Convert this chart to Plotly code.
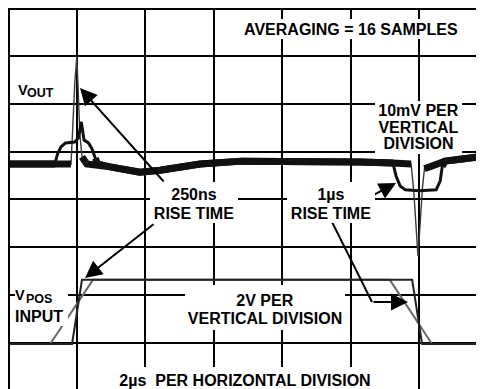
import plotly.graph_objects as go

# ---------------- data (time in microseconds) ----------------
# V_OUT, slow (1us rise) input response, mV
t_out_slow = [0.0, 0.93, 1.37, 1.45, 1.55, 1.68, 1.95, 2.06, 2.14, 2.22, 2.35, 2.45, 2.55, 2.62,
              2.98, 3.42, 3.85, 4.44, 5.02, 5.61, 6.83, 8.53, 10.28, 11.24,
              11.33, 11.45, 11.6, 12.0, 12.5, 12.62, 12.68, 12.76, 13.2, 13.9]
v_out_slow = [0.0, 0.2, 0.0, 2.2, 3.6, 4.4, 4.6, 5.5, 8.8, 5.0, 4.4, 3.2, 1.2, 0.0,
              -0.6, -1.3, -1.7, -1.3, -0.6, 0.0, 0.6, 0.6, 0.4, 0.2,
              -2.5, -4.6, -5.4, -5.6, -5.4, -3.5, -0.5, 0.6, 1.0, 1.6]
# V_OUT, fast (250ns rise) input response, mV
t_out_fast = [0.0, 0.93, 1.37, 1.84, 1.88, 1.95, 2.01, 2.05, 2.10, 2.16, 2.30,
              2.98, 3.42, 3.85, 4.44, 5.02, 5.61, 6.83, 8.53, 10.28, 11.24,
              11.77, 11.85, 11.93, 11.97, 12.02, 12.10, 12.16, 12.76, 13.2, 13.9]
v_out_fast = [0.0, 0.2, 0.0, 0.0, 6.0, 17.0, 22.5, 16.0, 6.0, 1.5, 0.0,
              -0.6, -1.3, -1.7, -1.3, -0.6, 0.0, 0.6, 0.6, 0.4, 0.2,
              0.0, -6.0, -15.0, -19.2, -14.0, -5.0, -1.0, 0.6, 1.0, 1.6]
# V_POS input, volts
t_in_slow = [0.0, 1.23, 2.48, 11.15, 12.38, 13.9]
v_in_slow = [0.0, 0.0, 2.68, 2.68, 0.0, 0.0]
t_in_fast = [0.0, 1.87, 2.16, 11.80, 12.09, 13.9]
v_in_fast = [0.0, 0.0, 2.68, 2.68, 0.0, 0.0]

# ---------------- layout geometry (page pixels) ----------------
PAGE_W, PAGE_H = 484, 389
BODY = 8                      # default html body margin
PAD = 2                       # plot margin inside the figure
DIVX, DIVY = 68.5, 47.86      # pixels per division
GRID_X0, GRID_Y0 = 8, 8       # page position of grid origin (left / top border)
US_PER_DIV, MV_PER_DIV, V_PER_DIV = 2.0, 10.0, 2.0
OUT_ZERO_PY, IN_ZERO_PY = 164, 344

fig_w, fig_h = PAGE_W - BODY, PAGE_H - BODY
left, top = BODY + PAD, BODY + PAD


def X(px):
    return (px - GRID_X0) / DIVX * US_PER_DIV


def Y(py):
    return 8 - (py - GRID_Y0) / DIVY


def MV(py):
    return (OUT_ZERO_PY - py) / DIVY * MV_PER_DIV


def VV(py):
    return (IN_ZERO_PY - py) / DIVY * V_PER_DIV


fig = go.Figure()


def thick_part(v, lim=2.0):
    return [val if abs(val) <= lim else None for val in v]


# input traces
fig.add_trace(go.Scatter(x=t_in_slow, y=v_in_slow, yaxis="y3", mode="lines",
                         line=dict(color="#6a6a6a", width=2)))
fig.add_trace(go.Scatter(x=t_in_fast, y=v_in_fast, yaxis="y3", mode="lines",
                         line=dict(color="#222222", width=2)))
# output traces
fig.add_trace(go.Scatter(x=t_out_fast, y=v_out_fast, yaxis="y2", mode="lines",
                         line=dict(color="#3a3a3a", width=1.4)))
fig.add_trace(go.Scatter(x=t_out_slow, y=v_out_slow, yaxis="y2", mode="lines",
                         line=dict(color="#111111", width=3)))
fig.add_trace(go.Scatter(x=t_out_fast, y=thick_part(v_out_fast), yaxis="y2", mode="lines",
                         line=dict(color="#111111", width=7), connectgaps=False))
fig.add_trace(go.Scatter(x=t_out_slow, y=thick_part(v_out_slow), yaxis="y2", mode="lines",
                         line=dict(color="#111111", width=7), connectgaps=False))

FONT = "Liberation Sans, Arial, sans-serif"
FS = 16
ann = []


def label(text, cx, cy, size=FS, w=None, h=None, bg=True, align="center", xanchor="center"):
    d = dict(text="<b>" + text + "</b>", x=X(cx), y=Y(cy), xref="x", yref="y",
             showarrow=False, font=dict(family=FONT, size=size, color="black"),
             xanchor=xanchor, yanchor="middle", align=align, borderpad=0, borderwidth=0)
    if bg:
        d["bgcolor"] = "white"
    if w:
        d["width"] = w
    if h:
        d["height"] = h
    ann.append(d)


def arrow(tx, ty, hx, hy):
    ann.append(dict(text="", x=X(hx), y=Y(hy), ax=X(tx), ay=Y(ty), xref="x", yref="y",
                    axref="x", ayref="y", showarrow=True, arrowhead=2, arrowsize=1.7,
                    arrowwidth=2, arrowcolor="black", standoff=0, startstandoff=0))


arrow(165, 183, 80, 88)
arrow(155, 223, 85, 278)
arrow(368, 198, 396, 183)
arrow(372, 302, 408, 302)

label("AVERAGING = 16 SAMPLES", 351, 28.5, w=216, h=20)
label("V", 18, 89.5, size=14.5, bg=False, xanchor="left")
label("OUT", 27, 93, size=12.5, bg=False, xanchor="left")
label("250ns", 193.5, 193.5, w=88, h=24)
label("RISE TIME", 193.5, 212.5, w=88, h=20)
label("1µs", 331, 193.5, w=88, h=24)
label("RISE TIME", 331, 212.5, w=88, h=20)
label("10mV PER", 418.5, 110.5, w=87, h=19)
label("DIVISION", 418.5, 143, w=87, h=22)
label("VERTICAL", 418.5, 127, w=87, h=20)
label("V", 41.5, 295, size=14.5, w=53, h=22, align="left")
label("POS", 25.5, 298.5, size=12.5, bg=False, xanchor="left")
label("INPUT", 41.5, 315.5, w=53, h=20, align="left")
label("2V PER", 265, 300.5, w=160, h=31)
label("VERTICAL DIVISION", 265, 317.5, w=160, h=24)
label("2µs  PER HORIZONTAL DIVISION", 245, 380, w=266, h=26)

fig.update_layout(
    width=fig_w, height=fig_h, margin=dict(l=PAD, r=0, t=PAD, b=0, autoexpand=False),
    paper_bgcolor="white", plot_bgcolor="white", showlegend=False,
    annotations=ann,
    shapes=[dict(type="line", xref="x", yref="y", x0=X(332), y0=Y(222), x1=X(372), y1=Y(302),
                 line=dict(color="black", width=2))],
    xaxis=dict(range=[X(left), X(PAGE_W)], dtick=US_PER_DIV, tick0=0, showgrid=True,
               gridcolor="black", gridwidth=1.8, showticklabels=False, ticks="", zeroline=False,
               showline=True, side="top", linecolor="black", linewidth=2.5, fixedrange=True,
               automargin=False),
    yaxis=dict(range=[Y(PAGE_H), Y(top)], dtick=1, tick0=0, showgrid=True, gridcolor="black",
               gridwidth=1.8, showticklabels=False, ticks="", zeroline=False, showline=True,
               linecolor="black", linewidth=2.5, fixedrange=True, automargin=False),
    yaxis2=dict(range=[MV(PAGE_H), MV(top)], overlaying="y", visible=False, fixedrange=True),
    yaxis3=dict(range=[VV(PAGE_H), VV(top)], overlaying="y", visible=False, fixedrange=True),
)

fig.write_html("out.html", config={"displayModeBar": False})
